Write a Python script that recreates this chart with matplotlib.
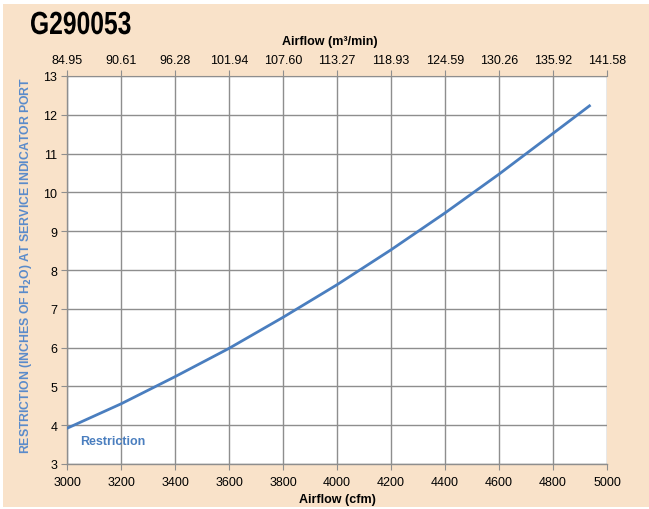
import numpy as np
import matplotlib.pyplot as plt
from matplotlib.patches import Rectangle, PathPatch
from matplotlib.textpath import TextPath
from matplotlib.font_manager import FontProperties
from matplotlib.transforms import Affine2D

# Data
airflow_cfm = [3000, 3200, 3400, 3600, 3800, 4000, 4200, 4400, 4600, 4800, 4935]
restriction = [3.92, 4.55, 5.25, 5.98, 6.78, 7.62, 8.52, 9.47, 10.47, 11.52, 12.23]

bottom_ticks = [3000, 3200, 3400, 3600, 3800, 4000, 4200, 4400, 4600, 4800, 5000]
top_labels = ["84.95", "90.61", "96.28", "101.94", "107.60", "113.27",
              "118.93", "124.59", "130.26", "135.92", "141.58"]
y_ticks = [3, 4, 5, 6, 7, 8, 9, 10, 11, 12, 13]

beige = "#F9E2C9"
blue = "#4A7EBF"
grid_gray = "#8E8E8E"

plt.rcParams["font.family"] = ["Liberation Sans", "DejaVu Sans"]

fig = plt.figure(figsize=(6.49, 5.10), dpi=100, facecolor="white")
bg = Rectangle((3 / 649, 2 / 510), 646 / 649, 503 / 510,
               transform=fig.transFigure, facecolor=beige,
               edgecolor="none", zorder=-10)
fig.add_artist(bg)

ax = fig.add_axes([67 / 649, 1 - 465 / 510, 540 / 649, 388 / 510])
ax.set_facecolor("white")

ax.plot(airflow_cfm, restriction, color=blue, lw=2.0, zorder=3)

ax.set_xlim(3000, 5000)
ax.set_ylim(3, 13)
ax.set_xticks(bottom_ticks)
ax.set_yticks(y_ticks)
ax.grid(True, color=grid_gray, lw=1)
ax.set_axisbelow(True)
for s in ["right", "top"]:
    ax.spines[s].set_visible(False)
for s in ["left", "bottom"]:
    ax.spines[s].set_color(grid_gray)
    ax.spines[s].set_linewidth(1)
ax.tick_params(axis="both", direction="out", length=4, color=grid_gray,
               labelsize=9, labelcolor="black", pad=3)
ax.tick_params(axis="x", pad=4.5)

ax.set_xlabel("Airflow (cfm)", fontsize=9, fontweight="bold", labelpad=4)
ax.set_ylabel("RESTRICTION (INCHES OF H$_\\mathbf{2}$O) AT SERVICE INDICATOR PORT",
              fontsize=8.8, fontweight="bold", color="#5A8BCB", labelpad=6.5)
ax.yaxis.label.set_y(0.515)

# top axis in m3/min
ax2 = ax.twiny()
ax2.set_xlim(ax.get_xlim())
ax2.set_xticks(bottom_ticks)
ax2.set_xticklabels(top_labels)
for s in ["right", "left", "bottom"]:
    ax2.spines[s].set_visible(False)
ax2.spines["top"].set_color(grid_gray)
ax2.tick_params(axis="x", direction="out", length=4, color=grid_gray,
                labelsize=9, pad=3)
ax2.set_xlabel("Airflow (m³/min)", fontsize=9, fontweight="bold", labelpad=7.5)
ax2.xaxis.label.set_x(0.487)

ax.text(0.024, 0.058, "Restriction", transform=ax.transAxes, color=blue,
        fontsize=9, fontweight="bold", va="center", ha="left")

# condensed bold title, drawn as a squeezed text path
tp = TextPath((0, 0), "G290053", size=32,
              prop=FontProperties(family="Liberation Sans", weight="bold"))
tr = Affine2D().scale(0.77 / 100, 1 / 100).translate(30 / 100, (510 - 35) / 100)
fig.add_artist(PathPatch(tp, transform=tr + fig.dpi_scale_trans,
                         facecolor="black", edgecolor="none", lw=0))

fig.savefig("out.png", dpi=100, facecolor=fig.get_facecolor())
